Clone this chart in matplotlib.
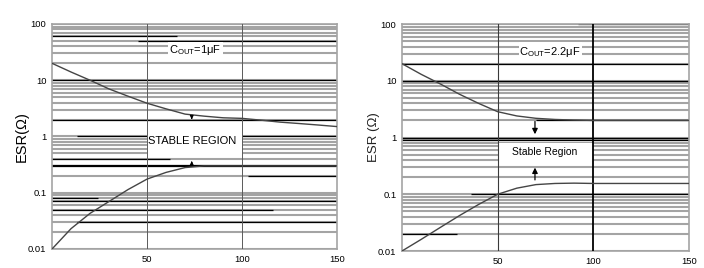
import numpy as np
import matplotlib
matplotlib.use('Agg')
import matplotlib.pyplot as plt
from matplotlib.patches import Rectangle

plt.rcParams['font.family'] = ['Liberation Sans', 'DejaVu Sans']
plt.rcParams['mathtext.fontset'] = 'custom'
plt.rcParams['mathtext.rm'] = 'Liberation Sans'

# load current (mA) vs ESR limits
x_pts = [0, 10, 20, 30, 40, 50, 60, 70, 80, 90, 100, 110, 120, 130, 140, 150]

esr_hi_1u = [20, 14, 10, 7.0, 5.2, 3.9, 3.1, 2.5, 2.3, 2.15, 2.1, 1.95, 1.8, 1.7, 1.6, 1.5]
esr_lo_1u = [0.01, 0.023, 0.043, 0.07, 0.114, 0.175, 0.23, 0.28, 0.3, 0.3, 0.3, 0.3, 0.3, 0.3, 0.3, 0.3]

esr_hi_2u2 = [20, 13, 8.8, 5.8, 4.0, 2.85, 2.4, 2.18, 2.08, 2.03, 2.0, 2.0, 2.0, 2.0, 2.0, 2.0]
esr_lo_2u2 = [0.01, 0.016, 0.026, 0.042, 0.066, 0.1, 0.128, 0.148, 0.155, 0.157, 0.155, 0.155, 0.155, 0.155, 0.155, 0.155]

x_ticks = [50, 100, 150]
y_ticks = [0.01, 0.1, 1, 10, 100]
y_tick_labels = ['0.01', '0.1', '1', '10', '100']

# dark (black) grid rules as they appear in the scan: (value, x from, x to)
dark_rules_1u = [(60, 0, 66), (50, 45, 150), (10, 0, 150), (2, 0, 150), (1, 13, 150),
                 (0.4, 0, 62), (0.3, 0, 150), (0.2, 103, 150), (0.08, 0, 24),
                 (0.07, 0, 150), (0.05, 0, 116), (0.03, 13, 150)]
dark_rules_2u2 = [(100, 92, 150), (20, 0, 150), (10, 0, 150), (2, 70, 150), (1, 0, 150),
                  (0.9, 0, 150), (0.1, 36, 150), (0.02, 0, 29)]

GRAY = '#a4a4a4'
CURVE = '#454545'


def minor_levels():
    out = []
    for d in [0.01, 0.1, 1, 10]:
        for k in range(1, 11):
            out.append(d * k)
    return sorted(set(round(v, 6) for v in out))


def draw_panel(ax, hi, lo, dark_rules):
    ax.set_yscale('log')
    ax.set_xlim(0, 150)
    ax.set_ylim(0.01, 100)
    for v in minor_levels():
        ax.axhline(v, color=GRAY, lw=1.5, zorder=1)
    for v, x0, x1 in dark_rules:
        lw = 1.6 if v == 0.3 else 0.9
        ax.plot([x0, x1], [v, v], color='black', lw=lw, zorder=2, solid_capstyle='butt')
    ax.plot(x_pts, hi, color=CURVE, lw=1.0, zorder=5)
    ax.plot(x_pts, lo, color=CURVE, lw=1.0, zorder=5)
    ax.set_xticks(x_ticks)
    ax.set_yticks(y_ticks)
    ax.set_yticklabels(y_tick_labels)
    ax.yaxis.set_minor_locator(matplotlib.ticker.NullLocator())
    ax.tick_params(length=0, labelsize=6.8, pad=4)
    for s in ax.spines.values():
        s.set_color(GRAY)
        s.set_linewidth(1.2)


fig = plt.figure(figsize=(7.04, 2.68), dpi=100)
ax1 = fig.add_axes([0.0739, 0.0709, 0.405, 0.8396])
ax2 = fig.add_axes([0.571, 0.0634, 0.4077, 0.847])

# left panel: Cout = 1uF
draw_panel(ax1, esr_hi_1u, esr_lo_1u, dark_rules_1u)
ax1.add_patch(Rectangle((61, 24.6), 29, 48.4 - 24.6, facecolor='white', edgecolor='none', zorder=3))
ax1.add_patch(Rectangle((50, 0.43), 50, 1.6 - 0.43, facecolor='white', edgecolor='none', zorder=3))
for xv in [50, 100]:
    ax1.axvline(xv, color='#5a5a5a', lw=0.7, zorder=4)
ax1.text(75.5, 34, r'C$_{\mathrm{OUT}}$=1μF', ha='center', va='center', fontsize=8, zorder=6)
ax1.text(73.7, 0.83, 'STABLE REGION', ha='center', va='center', fontsize=8, zorder=6)
ax1.annotate('', xy=(73.5, 1.8), xytext=(73.5, 2.45),
             arrowprops=dict(arrowstyle='-|>', color='black', lw=0.8, mutation_scale=5), zorder=6)
ax1.annotate('', xy=(73.5, 0.41), xytext=(73.5, 0.3),
             arrowprops=dict(arrowstyle='-|>', color='black', lw=0.8, mutation_scale=5), zorder=6)
ax1.text(-0.105, 0.5, 'ESR(Ω)', transform=ax1.transAxes, rotation=90,
         ha='center', va='center', fontsize=10.5)

# right panel: Cout = 2.2uF
draw_panel(ax2, esr_hi_2u2, esr_lo_2u2, dark_rules_2u2)
ax2.add_patch(Rectangle((61, 21.7), 33, 48.8 - 21.7, facecolor='white', edgecolor='none', zorder=3))
ax2.add_patch(Rectangle((50, 0.375), 50, 0.81 - 0.375, facecolor='white', edgecolor='none', zorder=3))
ax2.axvline(50, color='#3a3a3a', lw=0.8, zorder=4)
ax2.axvline(100, color='black', lw=1.3, zorder=4)
ax2.text(77.4, 32, r'C$_{\mathrm{OUT}}$=2.2μF', ha='center', va='center', fontsize=8, zorder=6)
ax2.text(74.7, 0.56, 'Stable Region', ha='center', va='center', fontsize=7.5, zorder=6)
ax2.annotate('', xy=(69.5, 1.02), xytext=(69.5, 2.15),
             arrowprops=dict(arrowstyle='-|>', color='black', lw=0.9, mutation_scale=8), zorder=6)
ax2.annotate('', xy=(69.5, 0.33), xytext=(69.5, 0.16),
             arrowprops=dict(arrowstyle='-|>', color='black', lw=0.9, mutation_scale=8), zorder=6)
ax2.text(-0.098, 0.5, 'ESR (Ω)', transform=ax2.transAxes, rotation=90,
         ha='center', va='center', fontsize=9.5, color='#222222')

fig.savefig('out.png', dpi=100, facecolor='white')
